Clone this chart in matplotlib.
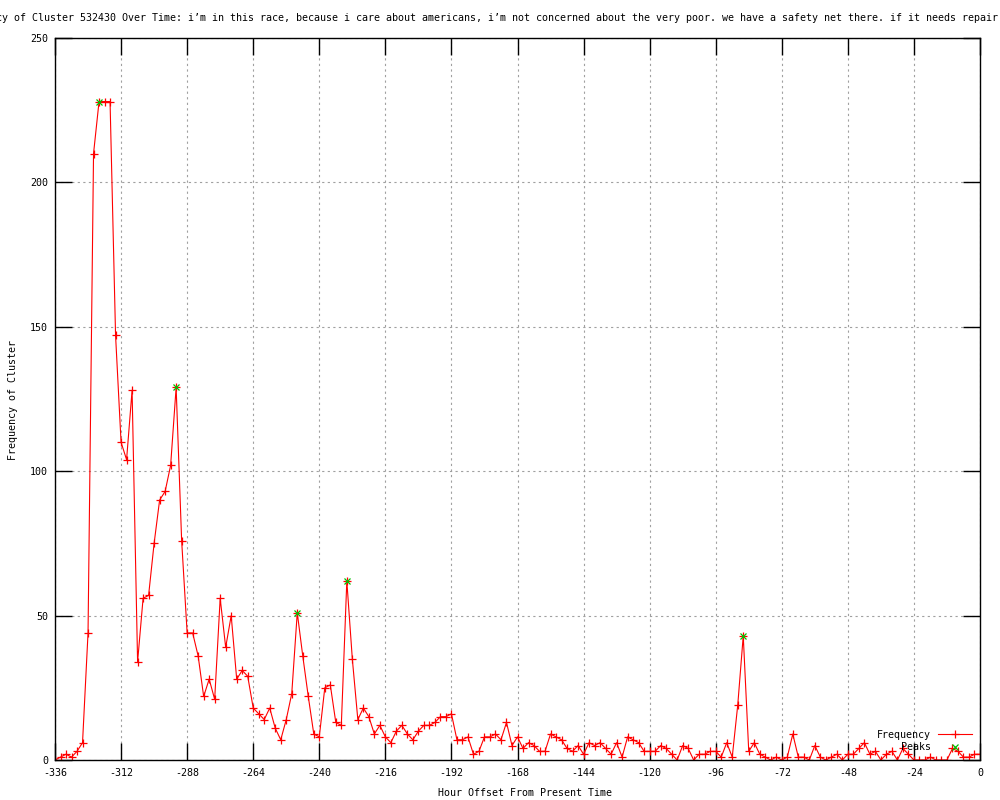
import numpy as np
import matplotlib
matplotlib.use('Agg')
import matplotlib.pyplot as plt

plt.rcParams['font.family'] = ['DejaVu Sans Mono']
plt.rcParams['axes.unicode_minus'] = False

# hour offsets, every 2 hours
hours = list(range(-336, 1, 2))
freq = [0, 1, 2, 1, 3, 6, 44, 210, 228, 228, 228, 147, 110, 104, 128, 34, 56, 57, 75, 90,
        93, 102, 129, 76, 44, 44, 36, 22, 28, 21, 56, 39, 50, 28, 31, 29, 18, 16, 14, 18,
        11, 7, 14, 23, 51, 36, 22, 9, 8, 25, 26, 13, 12, 62, 35, 14, 18, 15, 9, 12,
        8, 6, 10, 12, 9, 7, 10, 12, 12, 13, 15, 15, 16, 7, 7, 8, 2, 3, 8, 8,
        9, 7, 13, 5, 8, 4, 6, 5, 3, 3, 9, 8, 7, 4, 3, 5, 2, 6, 5, 6,
        4, 2, 6, 1, 8, 7, 6, 3, 3, 3, 5, 4, 2, 0, 5, 4, 0, 2, 2, 3,
        3, 1, 6, 1, 19, 43, 3, 6, 2, 1, 0, 1, 0, 1, 9, 1, 1, 0, 5, 1,
        0, 1, 2, 0, 2, 2, 4, 6, 2, 3, 0, 2, 3, 0, 4, 2, 0, 0, 0, 1,
        0, 0, 0, 4, 3, 1, 1, 2, 2]

peak_hours = [-320, -292, -248, -230, -86]
peak_vals = [228, 129, 51, 62, 43]

title = ('Frequency of Cluster 532430 Over Time: i\u2019m in this race, because i care about '
         'americans, i\u2019m not concerned about the very poor. we have a safety net there. '
         'if it needs repair, i\u2019ll fix it.')

fig = plt.figure(figsize=(10, 8), dpi=100)
ax = fig.add_axes([0.055, 0.05, 0.925, 0.9025])

ax.plot(hours, freq, c='red', linestyle='-', lw=0.8, marker='+', ms=6, mew=0.9, label='Frequency')
ax.plot(peak_hours, peak_vals, c='#00c000', linestyle='none', marker='x', ms=5, mew=0.9, label='Peaks')

ax.set_xlim(-336, 0)
ax.set_ylim(0, 250)
ax.set_xticks(range(-336, 1, 24))
ax.set_yticks(range(0, 251, 50))
ax.tick_params(direction='in', length=12, width=1, top=True, right=True, labelsize=7.2, pad=5)
ax.tick_params(axis='x', pad=6)
ax.grid(True, color='#a0a0a0', linestyle=(0, (2, 3)), lw=0.8)
for s in ax.spines.values():
    s.set_linewidth(1)

# long title, centred over the plot and clipped by the canvas like the original
fig.text(0.5175, 1 - 18 / 800, title, ha='center', va='center', fontsize=7.2)
fig.text(0.525, 1 - 793 / 800, 'Hour Offset From Present Time', ha='center', va='center', fontsize=7.2)
fig.text(0.013, 0.5, 'Frequency of Cluster', ha='center', va='center', rotation=90, fontsize=7.2)

ax.legend(loc='lower right', bbox_to_anchor=(0.991, 0.011), frameon=False, markerfirst=False,
          fontsize=7.2, handlelength=3.4, labelspacing=0.25, borderpad=0, borderaxespad=0,
          handletextpad=0.7, numpoints=1)

plt.savefig('out.png', dpi=100)
